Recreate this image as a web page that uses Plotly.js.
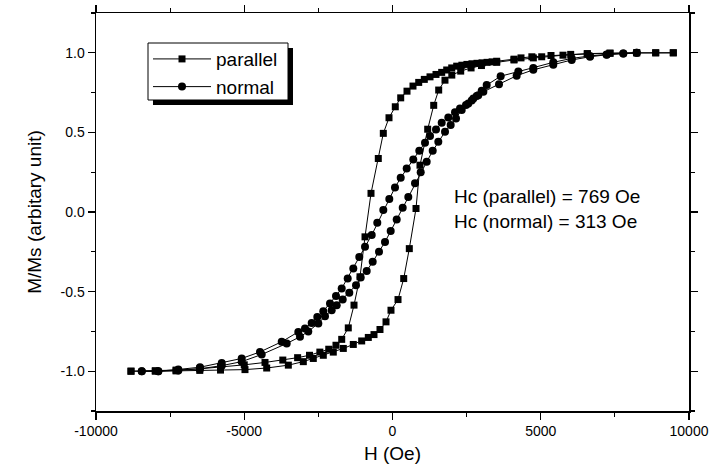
<!DOCTYPE html>
<html>
<head>
<meta charset="utf-8">
<script src="https://cdn.plot.ly/plotly-3.0.1.min.js"></script>
<style>html,body{margin:0;padding:0;background:#fff;}#chart{width:709px;height:467px;}</style>
</head>
<body>
<div id="chart"></div>
<script>
// Parallel: descending branch (from +H to -H)
const parDescH = [9470, 8877, 8236, 7336, 6570, 6010, 5346, 4700, 4334, 4098, 3514, 3360, 3190, 3020, 2850, 2680, 2510, 2340, 2165, 1997, 1828, 1659, 1467, 1265, 1073, 884, 691, 489, 277, 94, -118, -310, -479, -725, -927, -1096, -1298, -1491, -1713, -1906, -2150, -2450, -2800, -3200, -3700, -4300, -5000, -5800, -6500, -7300, -8000, -8820];
const parDescM = [1.0, 1.0, 1.0, 0.998, 0.995, 0.99, 0.983, 0.975, 0.968, 0.96, 0.947, 0.943, 0.94, 0.937, 0.934, 0.931, 0.927, 0.922, 0.916, 0.905, 0.892, 0.877, 0.864, 0.849, 0.833, 0.814, 0.791, 0.759, 0.717, 0.661, 0.592, 0.494, 0.336, 0.117, -0.156, -0.407, -0.585, -0.728, -0.80, -0.837, -0.862, -0.88, -0.9, -0.915, -0.93, -0.945, -0.96, -0.975, -0.985, -0.993, -0.997, -1.0];
// Parallel: ascending branch (from -H to +H)
const parAscH = [-8820, -8000, -7300, -6500, -5800, -4975, -4243, -3513, -3008, -2671, -2334, -1997, -1659, -1322, -1039, -816, -624, -422, -219, -51, 186, 378, 567, 793, 927, 1187, 1390, 1558, 1770, 2000, 2300, 2650, 3000, 3514, 4098, 4750, 5032, 5750, 6570, 7336, 8236, 8877, 9470];
const parAscM = [-1.0, -1.0, -0.998, -0.995, -0.993, -0.99, -0.98, -0.962, -0.94, -0.92, -0.90, -0.88, -0.857, -0.832, -0.81, -0.788, -0.77, -0.738, -0.69, -0.617, -0.55, -0.418, -0.23, 0.022, 0.294, 0.52, 0.67, 0.766, 0.828, 0.86, 0.885, 0.905, 0.92, 0.94, 0.955, 0.968, 0.975, 0.985, 0.993, 0.997, 1.0, 1.0, 1.0];

// Normal: descending branch
const norDescH = [8236, 7784, 7223, 6661, 6044, 5423, 4749, 4243, 3648, 3177, 3008, 2840, 2671, 2479, 2277, 2108, 1882, 1659, 1467, 1265, 1096, 904, 701, 479, 277, 84, -108, -310, -513, -701, -927, -1120, -1322, -1511, -1713, -1906, -2108, -2334, -2536, -2725, -2951, -3177, -3737, -4469, -5086, -5760, -6492, -7224, -7899, -8457];
const norDescM = [1.0, 0.996, 0.99, 0.98, 0.965, 0.94, 0.905, 0.882, 0.853, 0.797, 0.762, 0.728, 0.7, 0.672, 0.65, 0.627, 0.594, 0.56, 0.519, 0.477, 0.435, 0.385, 0.33, 0.274, 0.215, 0.154, 0.081, 0.012, -0.068, -0.145, -0.219, -0.282, -0.355, -0.418, -0.48, -0.527, -0.575, -0.623, -0.659, -0.697, -0.732, -0.753, -0.815, -0.879, -0.92, -0.948, -0.975, -0.989, -1.0, -1.0];
// Normal: ascending branch
const norAscH = [-8457, -7899, -7224, -6492, -5760, -5086, -4411, -3568, -3120, -2840, -2502, -2277, -2051, -1882, -1680, -1457, -1231, -1073, -870, -668, -455, -253, -61, 142, 344, 533, 759, 951, 1153, 1356, 1545, 1771, 1962, 2142, 2334, 2558, 2728, 2894, 3064, 3592, 4188, 4749, 5423, 6044, 6661, 7223, 7784, 8236];
const norAscM = [-1.0, -1.0, -0.995, -0.985, -0.965, -0.94, -0.895, -0.826, -0.784, -0.75, -0.70, -0.655, -0.617, -0.585, -0.55, -0.508, -0.46, -0.411, -0.37, -0.313, -0.25, -0.188, -0.12, -0.047, 0.026, 0.095, 0.18, 0.25, 0.315, 0.384, 0.441, 0.504, 0.546, 0.588, 0.64, 0.682, 0.713, 0.734, 0.755, 0.803, 0.856, 0.893, 0.925, 0.955, 0.975, 0.988, 0.995, 1.0];

const seriesNames = ['parallel', 'normal'];
const xTickVals = [-10000, -5000, 0, 5000, 10000];
const xTickText = ['-10000', '-5000', '0', '5000', '10000'];
const yTickVals = [-1.0, -0.5, 0.0, 0.5, 1.0];
const yTickText = ['-1.0', '-0.5', '0.0', '0.5', '1.0'];
const notes = ['Hc (parallel) = 769 Oe', 'Hc (normal) = 313 Oe'];
const noteX = 2000;
const noteY = [0.095, -0.062];

const FONT = 'Liberation Sans, Arial, Helvetica, sans-serif';

const traces = [
  {
    x: parDescH.concat(parAscH), y: parDescM.concat(parAscM),
    mode: 'lines+markers', name: seriesNames[0], type: 'scatter',
    line: {color: 'black', width: 1},
    marker: {symbol: 'square', size: 7, color: 'black'}
  },
  {
    x: norDescH.concat(norAscH), y: norDescM.concat(norAscM),
    mode: 'lines+markers', name: seriesNames[1], type: 'scatter',
    line: {color: 'black', width: 1},
    marker: {symbol: 'circle', size: 8, color: 'black'}
  }
];

const commonAxis = {
  showgrid: false, zeroline: false, showline: true, mirror: 'allticks',
  linecolor: 'black', linewidth: 1.5,
  tickcolor: 'black', tickwidth: 1.2,
  tickfont: {family: FONT, size: 14, color: 'black'}
};

const layout = {
  width: 709, height: 467,
  margin: {l: 96, r: 20, t: 13, b: 56},
  paper_bgcolor: 'white', plot_bgcolor: 'white',
  font: {family: FONT, color: 'black', size: 14},
  showlegend: true,
  xaxis: Object.assign({}, commonAxis, {
    range: [-10000, 10000],
    tickmode: 'array', tickvals: xTickVals, ticktext: xTickText,
    ticks: 'outside', ticklen: 7,
    minor: {tickmode: 'linear', tick0: 0, dtick: 2500, ticks: 'outside', ticklen: 4, tickcolor: 'black', tickwidth: 1.2},
    title: {text: 'H (Oe)', font: {family: FONT, size: 19, color: 'black'}, standoff: 8}
  }),
  yaxis: Object.assign({}, commonAxis, {
    range: [-1.25, 1.25],
    tickmode: 'array', tickvals: yTickVals, ticktext: yTickText,
    ticks: 'outside', ticklen: 7,
    minor: {tickmode: 'linear', tick0: 0, dtick: 0.25, ticks: 'outside', ticklen: 4, tickcolor: 'black', tickwidth: 1.2},
    title: {text: 'M/Ms (arbitary unit)', font: {family: FONT, size: 19, color: 'black'}, standoff: 14}
  }),
  legend: {
    x: 0.0877, y: 0.932, xanchor: 'left', yanchor: 'top',
    bgcolor: 'rgba(0,0,0,0)', borderwidth: 0,
    font: {family: FONT, size: 19, color: 'black'},
    itemwidth: 58, tracegroupgap: 0
  },
  shapes: [
    // legend drop shadow
    {type: 'rect', xref: 'paper', yref: 'paper', layer: 'above',
     x0: 0.0961, x1: 0.3322, y0: 0.7688, y1: 0.912,
     fillcolor: 'black', line: {width: 0}},
    // legend box
    {type: 'rect', xref: 'paper', yref: 'paper', layer: 'above',
     x0: 0.0877, x1: 0.3238, y0: 0.7814, y1: 0.9246,
     fillcolor: 'white', line: {color: 'black', width: 1}}
  ],
  annotations: notes.map((t, i) => ({
    text: t, x: noteX, y: noteY[i], xref: 'x', yref: 'y',
    xanchor: 'left', yanchor: 'middle', showarrow: false,
    font: {family: FONT, size: 19, color: 'black'}
  }))
};

Plotly.newPlot('chart', traces, layout, {displayModeBar: false, staticPlot: true});
</script>
</body>
</html>
